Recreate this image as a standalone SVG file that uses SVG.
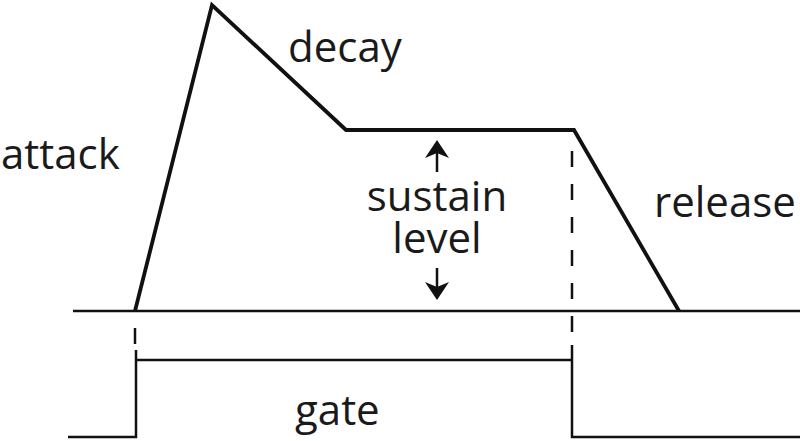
<svg xmlns="http://www.w3.org/2000/svg" width="800" height="441" viewBox="0 0 800 441">
<style>
.ln{fill:none;stroke:#111;stroke-linejoin:miter;stroke-linecap:butt}
.env{stroke-width:3.8}
.thin{stroke-width:2.5}
.dash{stroke-width:2.5;stroke-dasharray:16 17}
.lbl{font-family:"Open Sans","Noto Sans",sans-serif;font-size:42px;fill:#1a1a1a}
.head{fill:#111}
</style>
<rect width="800" height="441" fill="#fff"/>
<g id="connectors">
<line class="ln thin" x1="73" y1="311" x2="800" y2="311"/>
<path class="ln env" d="M135,311 L212,5 L346,130 L574,130 L679,311"/>
<line class="ln dash" x1="135" y1="312" x2="135" y2="350" stroke-dashoffset="-16"/>
<line class="ln dash" x1="572" y1="136" x2="572" y2="345" stroke-dashoffset="-15"/>
<path class="ln thin" d="M68,437 L136,437 L136,350"/>
<line class="ln thin" x1="136" y1="360" x2="572" y2="360"/>
<path class="ln thin" d="M572,345 L572,437 L800,437"/>
<line class="ln thin" x1="437" y1="153" x2="437" y2="172"/>
<path class="head" d="M437,140 L449,158 L437,153 L425,158 Z"/>
<line class="ln thin" x1="437" y1="268" x2="437" y2="287"/>
<path class="head" d="M437,300 L449,282 L437,287 L425,282 Z"/>
</g>
<g id="attack"><text class="lbl" x="1" y="169">attack</text></g>
<g id="decay"><text class="lbl" x="288" y="62">decay</text></g>
<g id="sustain"><text class="lbl" text-anchor="middle"><tspan x="437" y="211">sustain</tspan><tspan x="437" y="253">level</tspan></text></g>
<g id="release"><text class="lbl" x="654" y="217">release</text></g>
<g id="gate"><text class="lbl" x="295" y="425">gate</text></g>
</svg>
